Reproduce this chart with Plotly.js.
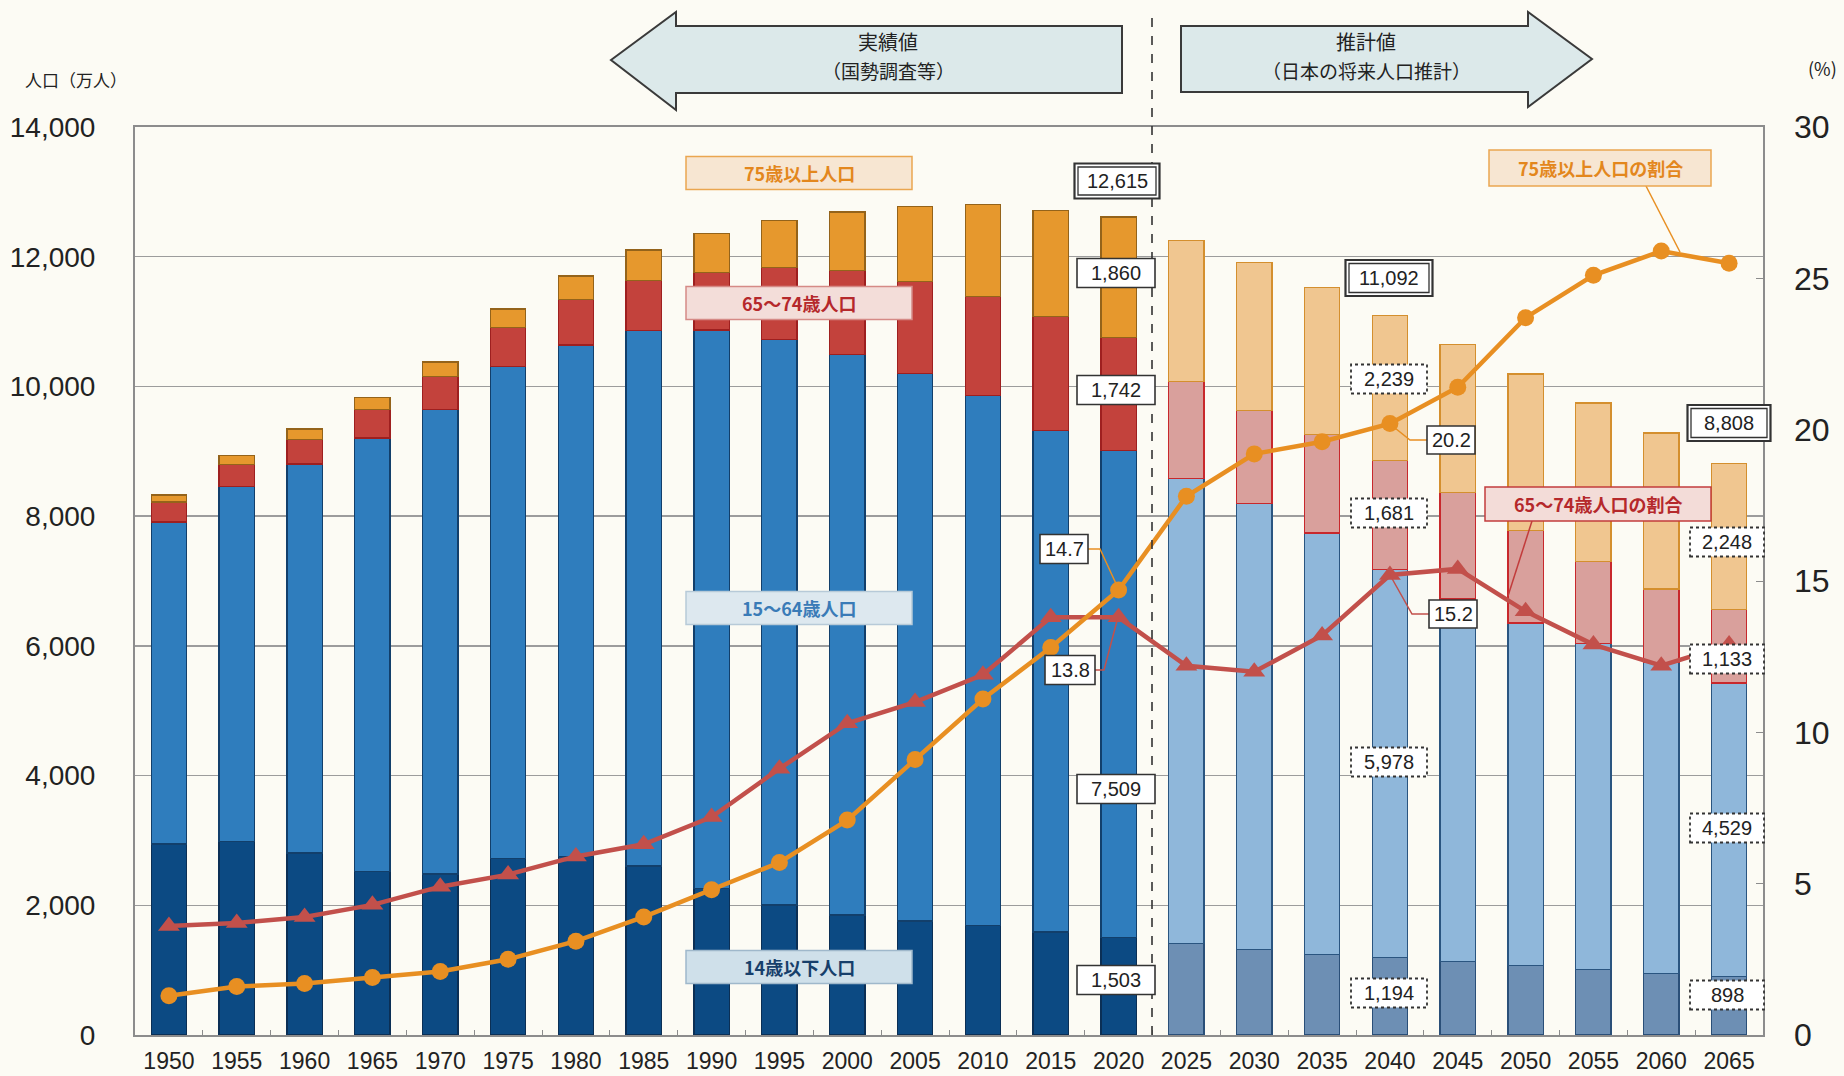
<!DOCTYPE html>
<html>
<head>
<meta charset="utf-8">
<script src="https://cdn.plot.ly/plotly-3.0.1.min.js"></script>
<style>
html,body{margin:0;padding:0;background:#fcfbf4;}
#chart{width:1844px;height:1076px;}
</style>
</head>
<body>
<div id="chart"></div>
<script>
// ---------------- data (万人 / %) ----------------
const years = ['1950','1955','1960','1965','1970','1975','1980','1985','1990','1995','2000','2005','2010','2015','2020','2025','2030','2035','2040','2045','2050','2055','2060','2065'];
const pop0_14  = [2943,2980,2807,2517,2482,2723,2752,2604,2254,2003,1851,1759,1684,1589,1503,1407,1321,1246,1194,1138,1077,1012,951,898];
const pop15_64 = [4966,5473,5998,6687,7157,7584,7888,8254,8614,8726,8638,8442,8173,7735,7509,7170,6875,6494,5978,5584,5275,5028,4793,4529];
const pop65_74 = [309,338,374,435,516,603,699,776,894,1109,1301,1412,1528,1754,1742,1497,1428,1522,1681,1643,1424,1258,1133,1133];
const pop75    = [106,139,163,189,224,284,366,471,599,718,901,1164,1419,1632,1860,2180,2288,2260,2239,2277,2417,2446,2407,2248];
const ratio75   = [1.3,1.6,1.7,1.9,2.1,2.5,3.1,3.9,4.8,5.7,7.1,9.1,11.1,12.8,14.7,17.8,19.2,19.6,20.2,21.4,23.7,25.1,25.9,25.5];
const ratio65_74= [3.6,3.7,3.9,4.3,4.9,5.3,5.9,6.3,7.2,8.8,10.3,11.0,11.9,13.8,13.8,12.2,12.0,13.2,15.2,15.4,14.0,12.9,12.2,12.9];
const totalLabelYears = ['2020','2040','2065'];
const totalLabelValues = [12615, 11092, 8808];
const firstProjection = 15; // index of 2025

// ---------------- styles ----------------
const FONT = 'Liberation Sans, Arial, Noto Sans CJK JP, sans-serif';
const JFONT = 'Noto Sans CJK JP, Liberation Sans, sans-serif';
const BG = '#fcfbf4';
const C = {
  c0:['#0c4a83','#6d8fb4'], l0:['#0b2f55','#2a4f78'],
  c1:['#2f7dbd','#8fb7da'], l1:['#123f6b','#2a5580'],
  c2:['#c3423c','#d9a09c'], l2:['#9e1f1f','#c8282c'],
  c3:['#e6982d','#f0c690'], l3:['#94631a','#d48f2e'],
  r75:'#e88f22', r65:'#c2504b'
};
const pick = (pair) => years.map((_, i) => i < firstProjection ? pair[0] : pair[1]);

function barTrace(vals, c, l) {
  return {type:'bar', x:years, y:vals, hoverinfo:'skip',
    marker:{color:pick(c), line:{color:pick(l), width:1.3}}};
}
const traces = [
  barTrace(pop0_14, C.c0, C.l0),
  barTrace(pop15_64, C.c1, C.l1),
  barTrace(pop65_74, C.c2, C.l2),
  barTrace(pop75, C.c3, C.l3),
  {type:'scatter', mode:'lines+markers', x:years, y:ratio65_74, yaxis:'y2', hoverinfo:'skip', cliponaxis:false,
    line:{color:C.r65, width:4.5}, marker:{symbol:'triangle-up', size:19, color:C.r65}},
  {type:'scatter', mode:'lines+markers', x:years, y:ratio75, yaxis:'y2', hoverinfo:'skip', cliponaxis:false,
    line:{color:C.r75, width:4.5}, marker:{symbol:'circle', size:17, color:C.r75}}
];

// ---------------- pixel helpers for decorations ----------------
const L = 135, R = 1763, T = 127, B = 1035;
const px = x => (x - L) / (R - L);
const py = y => (B - y) / (B - T);

const shapes = [];
const annotations = [];

// dashed divider between actual and projected
shapes.push({type:'line', xref:'paper', yref:'paper', x0:px(1152), x1:px(1152), y0:py(1035), y1:py(12),
  line:{color:'#333', width:1.6, dash:'dash'}, layer:'above'});

// arrows
const leftArrow = `M${px(611)},${py(60)} L${px(676)},${py(12)} L${px(676)},${py(26)} L${px(1122)},${py(26)} L${px(1122)},${py(93)} L${px(676)},${py(93)} L${px(676)},${py(110)} Z`;
const rightArrow = `M${px(1181)},${py(26)} L${px(1528)},${py(26)} L${px(1528)},${py(12)} L${px(1592)},${py(59)} L${px(1528)},${py(107)} L${px(1528)},${py(92)} L${px(1181)},${py(92)} Z`;
[leftArrow, rightArrow].forEach(p => shapes.push({type:'path', xref:'paper', yref:'paper', path:p,
  fillcolor:'#dce9ea', line:{color:'#3a3a3a', width:2}, layer:'above'}));
function text(t, x, y, size, color, bold, family) {
  annotations.push({xref:'paper', yref:'paper', x:px(x), y:py(y), xanchor:'center', yanchor:'middle',
    showarrow:false, text: bold ? '<b>' + t + '</b>' : t, font:{size:size, color:color, family:family || FONT}});
}
text('実績値', 888, 41, 20, '#222', false, JFONT);
text('（国勢調査等）', 888, 70, 19, '#222', false, JFONT);
text('推計値', 1366, 41, 20, '#222', false, JFONT);
text('（日本の将来人口推計）', 1366, 70, 19, '#222', false, JFONT);

// axis unit labels
text('人口（万人）', 76, 80, 17, '#222', false, JFONT);
text('(%)', 1822, 68, 18, '#222', false, JFONT);

// category label boxes
function rect(cx, cy, w, h, fill, border, bw, dash) {
  shapes.push({type:'rect', xref:'paper', yref:'paper', x0:px(cx - w/2), x1:px(cx + w/2), y0:py(cy + h/2), y1:py(cy - h/2),
    fillcolor:fill, line:{color:border, width:bw, dash:dash || 'solid'}, layer:'above'});
}
const catBoxes = [
  ['75歳以上人口', 799, 173, 226, 33, '#f7e6d2', '#eaa650', '#e3871d'],
  ['65～74歳人口', 799, 303, 226, 33, '#f3ddd9', '#d58a86', '#b5282b'],
  ['15～64歳人口', 799, 608, 226, 33, '#dde8ef', '#b7cad8', '#3a7bb7'],
  ['14歳以下人口', 799, 967, 226, 33, '#cfe0ea', '#9fb8cb', '#173f6b'],
  ['75歳以上人口の割合', 1600, 168, 222, 36, '#f7e6d2', '#eaa650', '#e3871d'],
  ['65～74歳人口の割合', 1598, 504, 226, 34, '#f3dcd8', '#c23c3c', '#b5282b']
];
// leader lines
function leader(pts, color) {
  const p = 'M' + pts.map(q => px(q[0]) + ',' + py(q[1])).join(' L');
  shapes.push({type:'path', xref:'paper', yref:'paper', path:p, line:{color:color, width:1.5}, layer:'above'});
}
leader([[1646,186],[1680,252]], C.r75);
leader([[1532,521],[1508,596]], '#c23c3c');
catBoxes.forEach(b => { rect(b[1], b[2], b[3], b[4], b[5], b[6], 1.5); text(b[0], b[1], b[2], 18, b[7], true, JFONT); });

// value label boxes
const fmt = v => v.toLocaleString('en-US');
const idx = y => years.indexOf(y);
const tot = y => totalLabelValues[totalLabelYears.indexOf(y)];
const valueBoxes = [
  [fmt(tot('2020')), 1117, 181, 78, 28, 'double'],
  [fmt(pop75[idx('2020')]), 1116, 273, 78, 29, 'solid'],
  [fmt(pop65_74[idx('2020')]), 1116, 390, 78, 29, 'solid'],
  [fmt(pop15_64[idx('2020')]), 1116, 789, 78, 29, 'solid'],
  [fmt(pop0_14[idx('2020')]), 1116, 980, 78, 29, 'solid'],
  [ratio75[idx('2020')].toFixed(1), 1064, 549, 48, 29, 'solid'],
  [ratio65_74[idx('2020')].toFixed(1), 1070, 670, 50, 29, 'solid'],
  [fmt(tot('2040')), 1389, 278, 80, 29, 'double'],
  [fmt(pop75[idx('2040')]), 1389, 379, 76, 29, 'dot'],
  [fmt(pop65_74[idx('2040')]), 1389, 513, 76, 29, 'dot'],
  [fmt(pop15_64[idx('2040')]), 1389, 762, 76, 29, 'dot'],
  [fmt(pop0_14[idx('2040')]), 1389, 993, 76, 29, 'dot'],
  [ratio75[idx('2040')].toFixed(1), 1451, 440, 48, 28, 'solid'],
  [ratio65_74[idx('2040')].toFixed(1), 1453, 614, 48, 28, 'solid'],
  [fmt(tot('2065')), 1729, 423, 76, 29, 'double'],
  [fmt(pop75[idx('2065')]), 1727, 542, 74, 29, 'dot'],
  [fmt(pop65_74[idx('2065')]), 1727, 659, 74, 29, 'dot'],
  [fmt(pop15_64[idx('2065')]), 1727, 828, 74, 29, 'dot'],
  [fmt(pop0_14[idx('2065')]), 1727, 995, 74, 29, 'dot']
];
leader([[1088,549],[1100,549],[1118,588]], C.r75);
leader([[1095,670],[1104,670],[1118,617]], C.r65);
leader([[1427,440],[1410,440],[1390,424]], C.r75);
leader([[1429,614],[1412,614],[1390,575]], C.r65);
valueBoxes.forEach(b => {
  const [t, cx, cy, w, h, st] = b;
  if (st === 'double') {
    rect(cx, cy, w + 7, h + 7, '#ffffff', '#333', 2.2);
    rect(cx, cy, w, h, '#ffffff', '#333', 1.3);
  } else if (st === 'dot') {
    rect(cx, cy, w, h, '#ffffff', '#333', 1.8, 'dot');
  } else {
    rect(cx, cy, w, h, '#ffffff', '#333', 1.6);
  }
  text(t, cx, cy, 20, '#222', false, FONT);
});

const layout = {
  width:1844, height:1076,
  margin:{l:L, r:1844 - R, t:T, b:1076 - B},
  paper_bgcolor:BG, plot_bgcolor:BG,
  barmode:'stack', bargap:0.48, showlegend:false,
  font:{family:FONT, color:'#222'},
  xaxis:{type:'category', range:[-0.5, years.length - 0.5], tickson:'boundaries', ticks:'inside', ticklen:5, tickcolor:'#8c8c8c',
    showline:true, linecolor:'#8c8c8c', linewidth:2, mirror:true, showgrid:false,
    tickfont:{size:23, color:'#222'}, ticklabelstandoff:4},
  yaxis:{range:[0,14000], dtick:2000, tickformat:',d', showgrid:true, gridcolor:'#9c9c9c', gridwidth:1.5,
    showline:true, linecolor:'#8c8c8c', linewidth:2, mirror:true, ticks:'', zeroline:false,
    tickfont:{size:28, color:'#222'}, ticklabelstandoff:32},
  yaxis2:{overlaying:'y', side:'right', range:[0,30], dtick:5, showgrid:false, zeroline:false,
    ticks:'inside', ticklen:7, tickcolor:'#8c8c8c', showline:false,
    tickfont:{size:32, color:'#222'}, ticklabelstandoff:30},
  shapes:shapes, annotations:annotations
};
Plotly.newPlot('chart', traces, layout, {staticPlot:true, displayModeBar:false});
</script>
</body>
</html>
